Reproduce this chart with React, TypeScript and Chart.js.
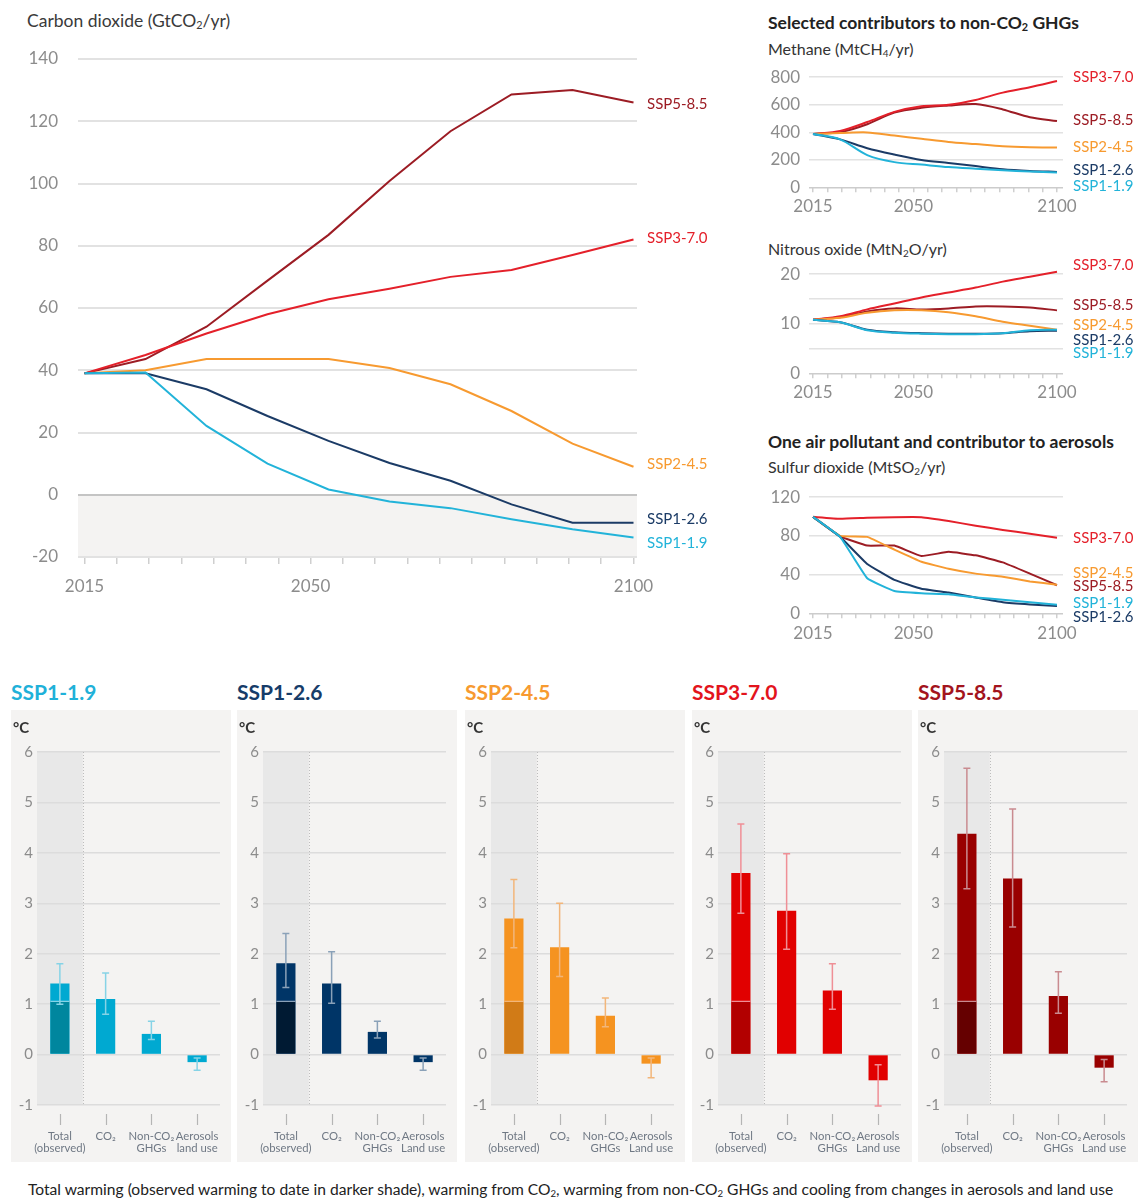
import React, { useEffect, useRef } from 'react';
import { Chart, registerables } from 'chart.js';

Chart.register(...registerables);

const FONT = "Lato, 'Open Sans', 'DejaVu Sans', sans-serif";

// ---------------- data ----------------
const scenarioNames = ['SSP1-1.9', 'SSP1-2.6', 'SSP2-4.5', 'SSP3-7.0', 'SSP5-8.5'];
const years = [2015, 2020, 2030, 2040, 2050, 2060, 2070, 2080, 2090, 2100];
const xTickLabels = [2015, 2050, 2100];

// Carbon dioxide (GtCO2/yr)
const co2_ssp119 = [39, 39.3, 22.1, 10, 1.7, -2.2, -4.3, -7.9, -11.1, -13.7];
const co2_ssp126 = [39, 39, 33.9, 25.3, 17.3, 10.2, 4.5, -3.1, -9, -9];
const co2_ssp245 = [39, 40, 43.6, 43.6, 43.6, 40.7, 35.5, 26.9, 16.4, 9];
const co2_ssp370 = [39, 44.9, 51.8, 58, 62.8, 66.2, 70, 72.2, 77, 82];
const co2_ssp585 = [39, 43.6, 54, 68.8, 83.5, 100.8, 116.8, 128.6, 130, 126];

// Methane (MtCH4/yr)
const ch4_ssp119 = [388, 348, 234, 183, 165, 147, 135, 124, 115, 108];
const ch4_ssp126 = [388, 348, 284, 238, 199, 177, 154, 131, 119, 112];
const ch4_ssp245 = [388, 394, 399, 376, 353, 330, 314, 298, 291, 289];
const ch4_ssp370 = [388, 410, 474, 548, 589, 600, 635, 688, 727, 772];
const ch4_ssp585 = [388, 400, 458, 543, 578, 594, 605, 566, 509, 481];

// Nitrous oxide (MtN2O/yr)
const n2o_ssp119 = [10.8, 10.3, 8.7, 8.2, 8.0, 7.9, 7.9, 8.1, 8.7, 8.8];
const n2o_ssp126 = [10.8, 10.3, 8.8, 8.3, 8.1, 8.0, 8.0, 8.1, 8.5, 8.6];
const n2o_ssp245 = [10.8, 11.2, 12.2, 12.7, 12.7, 12.3, 11.5, 10.4, 9.6, 8.8];
const n2o_ssp370 = [10.8, 11.5, 12.9, 14.1, 15.3, 16.3, 17.3, 18.5, 19.5, 20.5];
const n2o_ssp585 = [10.8, 11.3, 12.5, 13.1, 12.9, 13.1, 13.5, 13.5, 13.3, 12.7];

// Sulfur dioxide (MtSO2/yr)
const so2_ssp119 = [99.7, 79, 36.2, 23, 20.7, 19.7, 16.4, 14.1, 11.5, 8.9];
const so2_ssp126 = [99.7, 79, 51, 34.5, 25.3, 21.4, 16.4, 11.5, 9.2, 7.6];
const so2_ssp245 = [99.7, 80, 79, 65.8, 53.3, 46, 41, 37.8, 32.9, 29.6];
const so2_ssp370 = [99.7, 97.7, 98.7, 99.3, 99.3, 95.4, 90.5, 86.2, 82.2, 78];
const so2_ssp585 = [99.7, 79.6, 70, 70, 59.2, 63.5, 59.9, 52.6, 41, 29];

// Warming contributions (°C): Total, CO2, Non-CO2 GHGs, Aerosols/land use
const observedWarming = 1.07;
const warm_ssp119 = [1.41, 1.1, 0.41, -0.15];
const warmLo_ssp119 = [1.0, 0.8, 0.3, -0.31];
const warmHi_ssp119 = [1.8, 1.62, 0.66, -0.07];
const warm_ssp126 = [1.81, 1.41, 0.45, -0.15];
const warmLo_ssp126 = [1.33, 1.02, 0.33, -0.31];
const warmHi_ssp126 = [2.4, 2.04, 0.66, -0.07];
const warm_ssp245 = [2.7, 2.13, 0.77, -0.18];
const warmLo_ssp245 = [2.12, 1.55, 0.55, -0.46];
const warmHi_ssp245 = [3.47, 3.0, 1.12, -0.07];
const warm_ssp370 = [3.6, 2.85, 1.27, -0.51];
const warmLo_ssp370 = [2.8, 2.09, 0.9, -1.02];
const warmHi_ssp370 = [4.57, 3.98, 1.8, -0.2];
const warm_ssp585 = [4.38, 3.49, 1.16, -0.26];
const warmLo_ssp585 = [3.29, 2.53, 0.82, -0.54];
const warmHi_ssp585 = [5.68, 4.87, 1.64, -0.1];

const catLabelsLower = [['Total', '(observed)'], ['CO₂'], ['Non-CO₂', 'GHGs'], ['Aerosols', 'land use']];
const catLabelsUpper = [['Total', '(observed)'], ['CO₂'], ['Non-CO₂', 'GHGs'], ['Aerosols', 'Land use']];

// ---------------- styles ----------------
const lineColors = ['#22b3d9', '#1b3b66', '#f79a30', '#e4202a', '#9c1c24'];
const barColors = ['#00a9d1', '#003567', '#f59320', '#e10000', '#990000'];
const darkColors = ['#00869e', '#001a33', '#d17b17', '#b20000', '#650000'];
const errColors = ['#86d3e6', '#8aa1b8', '#f2b67a', '#ef8f96', '#c98b90'];
const titleColors = ['#1fb1d9', '#163c69', '#f79a30', '#e3141c', '#a3141d'];
const tickColor = '#8c8c8c';

type Area = { left: number; top: number; right: number; bottom: number };
type LineCfg = {
  left: number; top: number; width: number; height: number;
  area: Area; inset: { left: number; right: number };
  series: number[][];
  yMin: number; yMax: number; yGridStep: number; yLabelStep: number;
  labelOffsets: number[];
  tickFont: number; labelFont: number; tickLen: number; xPad: number; yPad: number;
  shadeNegative?: boolean; tension: number; zeroColor: string; gridColor: string; gridWidth: number;
};

function LineChart(cfg: LineCfg) {
  const ref = useRef<HTMLCanvasElement>(null);
  useEffect(() => {
    const { area, inset } = cfg;
    const n = years.length;
    const span = area.right - area.left - inset.left - inset.right;
    const pxIdx = span / (n - 1);
    const pxYr = span / (years[n - 1] - years[0]);
    const shade = {
      id: 'shade',
      beforeDraw(chart: any) {
        if (!cfg.shadeNegative) return;
        const { ctx, chartArea: ca, scales } = chart;
        const y0 = scales.y.getPixelForValue(0);
        ctx.save();
        ctx.fillStyle = '#f4f3f2';
        ctx.fillRect(ca.left, y0, ca.right - ca.left, ca.bottom - y0);
        ctx.restore();
      },
    };
    const endLabels = {
      id: 'endLabels',
      afterDatasetsDraw(chart: any) {
        const ctx = chart.ctx;
        chart.data.datasets.forEach((ds: any, i: number) => {
          const meta = chart.getDatasetMeta(i);
          const pt = meta.data[meta.data.length - 1];
          ctx.save();
          ctx.font = `${cfg.labelFont}px ${FONT}`;
          ctx.fillStyle = ds.borderColor;
          ctx.textAlign = 'left';
          ctx.textBaseline = 'middle';
          ctx.fillText(ds.label, chart.chartArea.right + 10, pt.y + cfg.labelOffsets[i]);
          ctx.restore();
        });
      },
    };
    const chart = new Chart(ref.current as HTMLCanvasElement, {
      type: 'line',
      data: {
        datasets: cfg.series.map((s, i) => ({
          label: scenarioNames[i],
          data: s.map((v, j) => ({ x: j, y: v })),
          borderColor: lineColors[i],
          backgroundColor: lineColors[i],
          borderWidth: 2,
          pointRadius: 0,
          tension: cfg.tension,
          fill: false,
          clip: false,
          xAxisID: 'xi',
          yAxisID: 'y',
        })),
      },
      options: {
        animation: false,
        responsive: false,
        events: [],
        layout: { padding: { top: area.top, right: cfg.width - area.right, left: 0, bottom: 0 } },
        plugins: { legend: { display: false }, tooltip: { enabled: false } },
        scales: {
          xi: { type: 'linear', display: false, min: -inset.left / pxIdx, max: n - 1 + inset.right / pxIdx },
          x: {
            type: 'linear', position: 'bottom',
            min: years[0] - inset.left / pxYr, max: years[n - 1] + inset.right / pxYr,
            afterFit: (s: any) => { s.height = cfg.height - area.bottom; },
            grid: { drawOnChartArea: false, drawTicks: true, tickLength: cfg.tickLen, color: '#cfcfcf', lineWidth: 1.5 },
            border: { display: false },
            ticks: {
              stepSize: 5, includeBounds: false, autoSkip: false, maxRotation: 0, minRotation: 0,
              padding: cfg.xPad, color: tickColor, font: { family: FONT, size: cfg.tickFont },
              callback: (v: any) => (xTickLabels.includes(Number(v)) ? String(v) : ''),
            },
          },
          y: {
            min: cfg.yMin, max: cfg.yMax,
            afterFit: (s: any) => { s.width = area.left; },
            border: { display: false },
            grid: {
              drawTicks: false,
              color: (c: any) => (c.tick && c.tick.value === 0 ? cfg.zeroColor : cfg.gridColor),
              lineWidth: cfg.gridWidth,
            },
            ticks: {
              stepSize: cfg.yGridStep, padding: cfg.yPad, color: tickColor,
              font: { family: FONT, size: cfg.tickFont },
              callback: (v: any) => (Math.abs(Number(v) % cfg.yLabelStep) < 1e-9 ? String(v) : ''),
            },
          },
        },
      } as any,
      plugins: [shade, endLabels],
    });
    return () => chart.destroy();
  }, []);
  return (
    <canvas ref={ref} width={cfg.width} height={cfg.height}
      style={{ position: 'absolute', left: cfg.left, top: cfg.top, width: cfg.width, height: cfg.height }} />
  );
}

type BarCfg = {
  x: number; i: number; values: number[]; lo: number[]; hi: number[]; labels: string[][];
};

function BarPanel(cfg: BarCfg) {
  const ref = useRef<HTMLCanvasElement>(null);
  const W = 220, H = 452;
  const area = { left: 26, top: 42, right: 209, bottom: 395 };
  useEffect(() => {
    const errColor = errColors[cfg.i];
    const deco = {
      id: 'deco',
      beforeDraw(chart: any) {
        const { ctx, chartArea: ca, scales } = chart;
        const edge = (scales.x.getPixelForValue(0) + scales.x.getPixelForValue(1)) / 2;
        ctx.save();
        ctx.fillStyle = '#e8e8e8';
        ctx.fillRect(ca.left, ca.top, edge - ca.left, ca.bottom - ca.top);
        ctx.restore();
      },
      beforeDatasetsDraw(chart: any) {
        const { ctx, chartArea: ca, scales } = chart;
        const edge = Math.round((scales.x.getPixelForValue(0) + scales.x.getPixelForValue(1)) / 2) + 0.5;
        ctx.save();
        ctx.strokeStyle = '#bdbdbd';
        ctx.lineWidth = 1;
        ctx.setLineDash([1, 2]);
        ctx.beginPath();
        ctx.moveTo(edge, ca.top);
        ctx.lineTo(edge, ca.bottom);
        ctx.stroke();
        ctx.restore();
      },
      afterDatasetsDraw(chart: any) {
        const { ctx, scales } = chart;
        ctx.save();
        ctx.strokeStyle = errColor;
        ctx.lineWidth = 1.5;
        cfg.lo.forEach((lo, k) => {
          const px = scales.x.getPixelForValue(k);
          const y1 = scales.y.getPixelForValue(lo);
          const y2 = scales.y.getPixelForValue(cfg.hi[k]);
          ctx.beginPath();
          ctx.moveTo(px, y1); ctx.lineTo(px, y2);
          ctx.moveTo(px - 3.5, y1); ctx.lineTo(px + 3.5, y1);
          ctx.moveTo(px - 3.5, y2); ctx.lineTo(px + 3.5, y2);
          ctx.stroke();
        });
        ctx.restore();
      },
      afterDraw(chart: any) {
        const { ctx, chartArea: ca, scales } = chart;
        ctx.save();
        cfg.labels.forEach((lines, k) => {
          const pxr = scales.x.getPixelForValue(k);
          const px = Math.round(pxr) + 0.5;
          ctx.strokeStyle = '#b5b5b5';
          ctx.lineWidth = 1.2;
          ctx.beginPath();
          ctx.moveTo(px, ca.bottom + 9);
          ctx.lineTo(px, ca.bottom + 20);
          ctx.stroke();
          ctx.fillStyle = '#6f7884';
          ctx.font = `11.3px ${FONT}`;
          ctx.textAlign = 'center';
          ctx.textBaseline = 'middle';
          lines.forEach((t, li) => ctx.fillText(t, pxr, ca.bottom + 31 + li * 12.5));
        });
        ctx.restore();
      },
    };
    const chart = new Chart(ref.current as HTMLCanvasElement, {
      type: 'bar',
      data: {
        labels: cfg.labels.map((l) => l.join(' ')),
        datasets: [
          {
            data: [observedWarming, null, null, null],
            backgroundColor: darkColors[cfg.i],
            borderColor: errColor,
            borderWidth: { top: 1.5, left: 0, right: 0, bottom: 0 },
            grouped: false, barPercentage: 0.42, categoryPercentage: 1,
          },
          {
            data: cfg.values,
            backgroundColor: barColors[cfg.i],
            borderWidth: 0,
            grouped: false, barPercentage: 0.42, categoryPercentage: 1,
          },
        ],
      },
      options: {
        animation: false,
        responsive: false,
        events: [],
        layout: { padding: { top: area.top, right: W - area.right, left: 0, bottom: 0 } },
        plugins: { legend: { display: false }, tooltip: { enabled: false } },
        scales: {
          x: {
            afterFit: (s: any) => { s.height = H - area.bottom; },
            grid: { display: false },
            border: { display: false },
            ticks: { display: false },
          },
          y: {
            min: -1, max: 6,
            afterFit: (s: any) => { s.width = area.left; },
            border: { display: false },
            grid: { drawTicks: false, color: '#dcdcdc', lineWidth: 1.5 },
            ticks: { stepSize: 1, padding: 4, color: tickColor, font: { family: FONT, size: 15 } },
          },
        },
      } as any,
      plugins: [deco],
    });
    return () => chart.destroy();
  }, []);
  return (
    <>
      <div style={{ position: 'absolute', left: cfg.x, top: 710, width: W, height: H, background: '#f4f3f2' }} />
      <canvas ref={ref} width={W} height={H}
        style={{ position: 'absolute', left: cfg.x, top: 710, width: W, height: H }} />
      <Txt x={cfg.x} y={692} size={21} weight={700} color={titleColors[cfg.i]}>{scenarioNames[cfg.i]}</Txt>
      <Txt x={cfg.x + 2} y={727} size={15} weight={700} color="#333">°C</Txt>
    </>
  );
}

function Txt(p: { x: number; y: number; size: number; weight?: number; color: string; children: any }) {
  return (
    <div style={{
      position: 'absolute', left: p.x, top: p.y, transform: 'translateY(-50%)',
      fontFamily: FONT, fontSize: p.size, fontWeight: p.weight || 400, color: p.color,
      whiteSpace: 'nowrap', lineHeight: 1.2,
    }}>{p.children}</div>
  );
}

const Sub = ({ children }: { children: any }) => (
  <sub style={{ fontSize: '0.62em', verticalAlign: '-0.2em', lineHeight: 0 }}>{children}</sub>
);

export default function App() {
  const panelXs = [11, 237, 465, 692, 918];
  const bars = [
    { values: warm_ssp119, lo: warmLo_ssp119, hi: warmHi_ssp119, labels: catLabelsLower },
    { values: warm_ssp126, lo: warmLo_ssp126, hi: warmHi_ssp126, labels: catLabelsUpper },
    { values: warm_ssp245, lo: warmLo_ssp245, hi: warmHi_ssp245, labels: catLabelsUpper },
    { values: warm_ssp370, lo: warmLo_ssp370, hi: warmHi_ssp370, labels: catLabelsUpper },
    { values: warm_ssp585, lo: warmLo_ssp585, hi: warmHi_ssp585, labels: catLabelsUpper },
  ];
  const small = { tickFont: 17, labelFont: 15, tickLen: 5, yPad: 9, tension: 0.3, zeroColor: '#cccccc', gridColor: '#e2e2e2', gridWidth: 1.5 };
  return (
    <div style={{ position: 'absolute', left: 0, top: 0, width: 1138, height: 1198, background: '#fff', overflow: 'hidden' }}>
      <Txt x={27} y={20} size={17.5} color="#3a3a3a">Carbon dioxide (GtCO<Sub>2</Sub>/yr)</Txt>
      <LineChart left={0} top={0} width={720} height={600}
        area={{ left: 78, top: 59, right: 637, bottom: 557 }} inset={{ left: 6.5, right: 3.5 }}
        series={[co2_ssp119, co2_ssp126, co2_ssp245, co2_ssp370, co2_ssp585]}
        yMin={-20} yMax={140} yGridStep={20} yLabelStep={20}
        labelOffsets={[6, -4, -3, -1.5, 1.5]}
        tickFont={17} labelFont={15} tickLen={7} xPad={12} yPad={20}
        shadeNegative tension={0} zeroColor="#c4c4c4" gridColor="#e2e2e2" gridWidth={2} />

      <Txt x={768} y={22} size={17.5} weight={700} color="#222">Selected contributors to non-CO<Sub>2</Sub> GHGs</Txt>
      <Txt x={768} y={49} size={16} color="#333">Methane (MtCH<Sub>4</Sub>/yr)</Txt>
      <LineChart left={760} top={58} width={378} height={162}
        area={{ left: 49, top: 13, right: 303, bottom: 129.3 }} inset={{ left: 4, right: 6 }}
        series={[ch4_ssp119, ch4_ssp126, ch4_ssp245, ch4_ssp370, ch4_ssp585]}
        yMin={0} yMax={800} yGridStep={200} yLabelStep={200}
        labelOffsets={[13.4, -1.7, 0, -4, -0.7]} xPad={4} {...small} />

      <Txt x={768} y={249} size={16} color="#333">Nitrous oxide (MtN<Sub>2</Sub>O/yr)</Txt>
      <LineChart left={760} top={255} width={378} height={150}
        area={{ left: 49, top: 14.3, right: 303, bottom: 118.3 }} inset={{ left: 4, right: 6 }}
        series={[n2o_ssp119, n2o_ssp126, n2o_ssp245, n2o_ssp370, n2o_ssp585]}
        yMin={0} yMax={20} yGridStep={5} yLabelStep={10}
        labelOffsets={[23.5, 9.7, -4.2, -6.7, -5.6]} xPad={4} {...small} />

      <Txt x={768} y={441} size={17.5} weight={700} color="#222">One air pollutant and contributor to aerosols</Txt>
      <Txt x={768} y={467} size={16} color="#333">Sulfur dioxide (MtSO<Sub>2</Sub>/yr)</Txt>
      <LineChart left={760} top={478} width={378} height={165}
        area={{ left: 49, top: 13.7, right: 303, bottom: 135.3 }} inset={{ left: 4, right: 6 }}
        series={[so2_ssp119, so2_ssp126, so2_ssp245, so2_ssp370, so2_ssp585]}
        yMin={0} yMax={120} yGridStep={20} yLabelStep={40}
        labelOffsets={[-1.6, 11, -11.6, 0, 1]} xPad={5} {...small} tension={0.1} />

      {bars.map((b, i) => (
        <BarPanel key={i} x={panelXs[i]} i={i} values={b.values} lo={b.lo} hi={b.hi} labels={b.labels} />
      ))}

      <Txt x={28} y={1189} size={15.6} color="#222">
        Total warming (observed warming to date in darker shade), warming from CO<Sub>2</Sub>, warming from non-CO<Sub>2</Sub> GHGs and cooling from changes in aerosols and land use
      </Txt>
    </div>
  );
}
